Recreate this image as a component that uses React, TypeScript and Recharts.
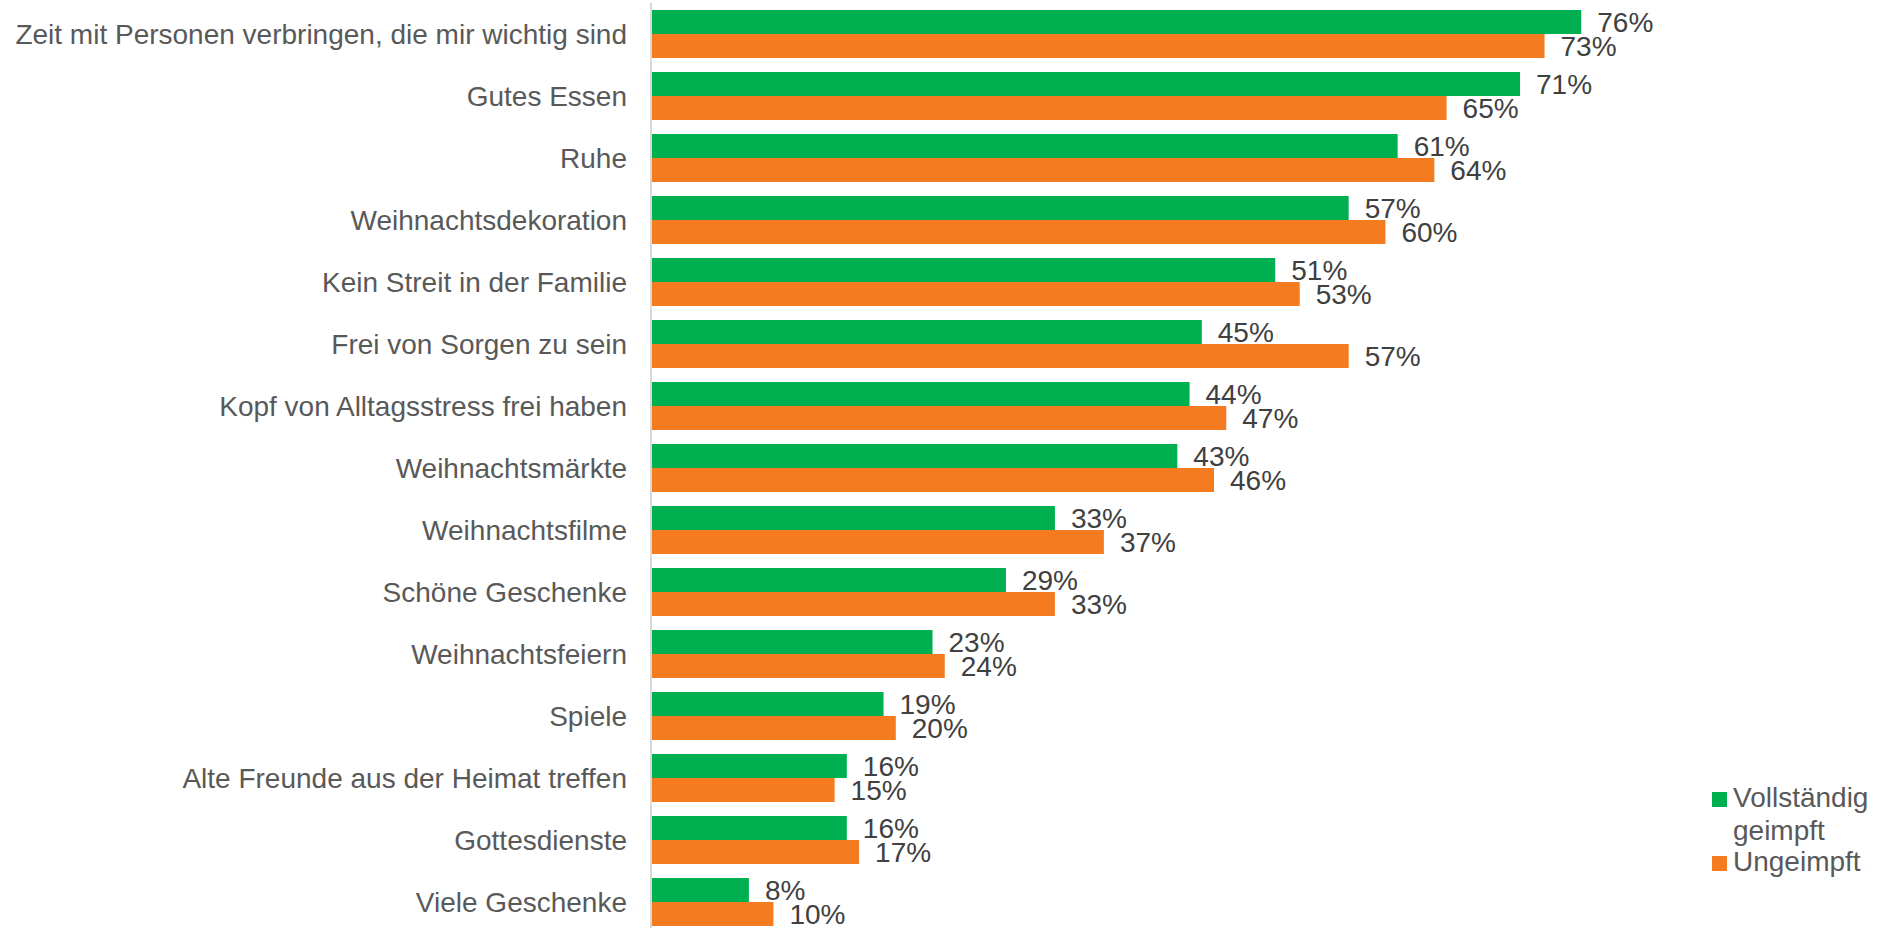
import { BarChart, Bar, XAxis, YAxis, LabelList } from 'recharts';

const categories = [
  'Zeit mit Personen verbringen, die mir wichtig sind',
  'Gutes Essen',
  'Ruhe',
  'Weihnachtsdekoration',
  'Kein Streit in der Familie',
  'Frei von Sorgen zu sein',
  'Kopf von Alltagsstress frei haben',
  'Weihnachtsmärkte',
  'Weihnachtsfilme',
  'Schöne Geschenke',
  'Weihnachtsfeiern',
  'Spiele',
  'Alte Freunde aus der Heimat treffen',
  'Gottesdienste',
  'Viele Geschenke',
];

const geimpft = [76, 71, 61, 57, 51, 45, 44, 43, 33, 29, 23, 19, 16, 16, 8];
const ungeimpft = [73, 65, 64, 60, 53, 57, 47, 46, 37, 33, 24, 20, 15, 17, 10];

const data = categories.map((name, i) => ({
  name,
  geimpft: geimpft[i],
  ungeimpft: ungeimpft[i],
}));

const GREEN = '#00B050';
const ORANGE = '#F47B20';
const FONT = '"Liberation Sans", Arial, sans-serif';

// legend drawn as an overlay so it does not shrink the plot
const LegendBox = () => (
  <div
    style={{
      position: 'absolute',
      left: 1712,
      top: 781,
      fontFamily: FONT,
      fontSize: 28,
      color: '#595959',
      lineHeight: '33px',
    }}
  >
    <div style={{ display: 'flex', alignItems: 'flex-start' }}>
      <span style={{ width: 15, height: 15, background: GREEN, marginTop: 11, marginRight: 6, flexShrink: 0 }} />
      <span>Vollständig<br />geimpft</span>
    </div>
    <div style={{ display: 'flex', alignItems: 'flex-start', marginTop: -2 }}>
      <span style={{ width: 15, height: 15, background: ORANGE, marginTop: 11, marginRight: 6, flexShrink: 0 }} />
      <span>Ungeimpft</span>
    </div>
  </div>
);

export default function App() {
  return (
    <div
      style={{
        position: 'absolute',
        left: 0,
        top: 0,
        width: 1898,
        height: 928,
        overflow: 'hidden',
        background: '#fff',
      }}
    >
      {/* the last row runs past the bottom edge in the original, so the chart is a bit taller and clipped */}
      <BarChart
        width={1898}
        height={933}
        data={data}
        layout="vertical"
        margin={{ top: 3, right: 23, bottom: 0, left: 0 }}
        barGap={0}
        barSize={24}
      >
        <XAxis type="number" domain={[0, 100]} hide />
        <YAxis
          type="category"
          dataKey="name"
          width={651}
          tickLine={false}
          tickSize={0}
          tickMargin={24}
          axisLine={{ stroke: '#D9D9D9', strokeWidth: 2 }}
          tick={{ fill: '#595959', fontSize: 28, fontFamily: FONT }}
          interval={0}
        />
        <Bar dataKey="geimpft" fill={GREEN} isAnimationActive={false}>
          <LabelList
            dataKey="geimpft"
            position="right"
            offset={16}
            formatter={(v: number) => `${v}%`}
            style={{ fill: '#404040', fontSize: 28, fontFamily: FONT }}
          />
        </Bar>
        <Bar dataKey="ungeimpft" fill={ORANGE} isAnimationActive={false}>
          <LabelList
            dataKey="ungeimpft"
            position="right"
            offset={16}
            formatter={(v: number) => `${v}%`}
            style={{ fill: '#404040', fontSize: 28, fontFamily: FONT }}
          />
        </Bar>
      </BarChart>
      <LegendBox />
    </div>
  );
}
